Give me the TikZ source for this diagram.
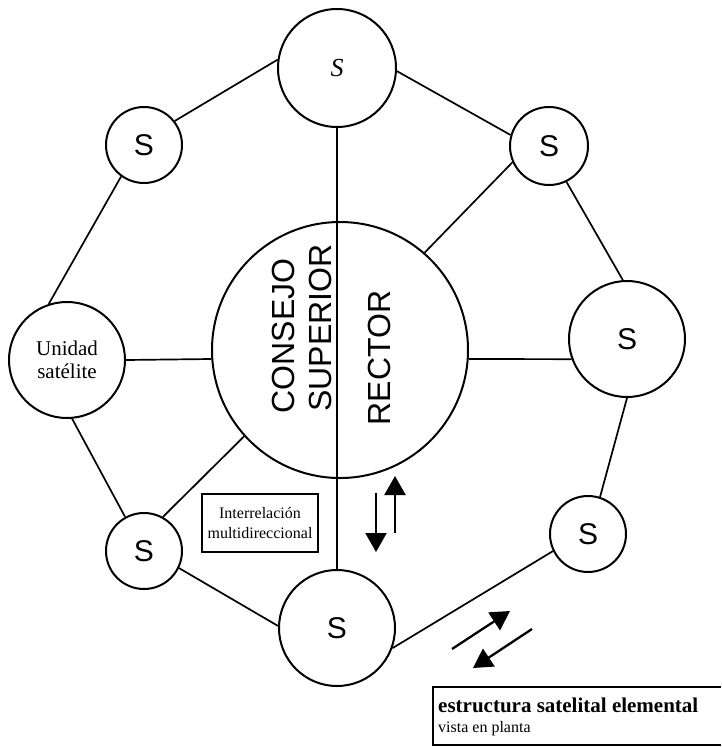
\documentclass[tikz,border=0pt]{standalone}
\usepackage{fontspec}
\setmainfont{Liberation Serif}
\newfontfamily\arialfont{Liberation Sans}
\usetikzlibrary{arrows.meta}

\begin{document}
\begin{tikzpicture}[x=1pt, y=-1pt,
    sat/.style={circle, draw, line width=2pt, inner sep=0pt,
                minimum size=#1},
    sat/.default=76pt,
    link/.style={line width=1.7pt},
    flow/.style={line width=2.3pt, -{Triangle[length=19pt,width=21pt]}},
    sletter/.style={font=\arialfont\fontsize{30}{30}\selectfont},
    bigtxt/.style={font=\arialfont\fontsize{32}{32}\selectfont,
                   rotate=90, inner sep=0pt}]
  \useasboundingbox (0,0) rectangle (721,747);

  %% central body
  \node[sat=256pt] (central) at (340,350) {};
  \node[bigtxt] (consejo) at (283,336) {CONSEJO};
  \node[bigtxt] (superior) at (320,328) {SUPERIOR};
  \node[bigtxt] (rector) at (379,358) {RECTOR};

  %% satellites
  \node[sat=118pt, font=\itshape\fontsize{26}{26}\selectfont]
    (stop) at (337,68) {S};
  \node[sat, sletter] (sleftup) at (144,145) {S};
  \node[sat=78pt, sletter] (srightup) at (549,146) {S};
  \node[sat=116pt, align=center, font=\fontsize{21}{23}\selectfont]
    (unidad) at (67,360) {Unidad\\satélite};
  \node[sat=116pt, sletter] (sright) at (627,339) {S};
  \node[sat, sletter] (sleftdown) at (144,551) {S};
  \node[sat=116pt, sletter] (sbottom) at (337,628) {S};
  \node[sat, sletter] (srightdown) at (588,534) {S};

  %% links
  \draw[link] (stop.172) -- (sleftup.38);
  \draw[link] (stop.357) -- (srightup.164);
  \draw[link] (stop.south) -- (sbottom.north);
  \draw[link] (sleftup.234) -- (unidad.108);
  \draw[link] (srightup.204) -- (central.49);
  \draw[link] (srightup.296) -- (sright.94);
  \draw[link] (unidad.east) -- (central.184);
  \draw[link] (central.356) -- (sright.200);
  \draw[link] (unidad.275) -- (sleftdown.119);
  \draw[link] (central.222) -- (sleftdown.61);
  \draw[link] (sleftdown.334) -- (sbottom.178);
  \draw[link] (sbottom.340) -- (srightdown.206);
  \draw[link] (sright.270) -- (srightdown.72);

  %% label box
  \node[draw, line width=2.2pt, minimum width=116pt, minimum height=58pt,
        inner sep=0pt, align=center, font=\fontsize{16}{20}\selectfont]
    (inter) at (260,523) {Interrelación\\multidireccional};

  %% two-way arrows
  \coordinate (upA) at (395,533);
  \coordinate (upB) at (395,476);
  \coordinate (dnA) at (376,493);
  \coordinate (dnB) at (376,552);
  \draw[flow] (upA) -- (upB);
  \draw[flow] (dnA) -- (dnB);
  \coordinate (diA) at (452,649);
  \coordinate (diB) at (510,611);
  \coordinate (dgA) at (532,629);
  \coordinate (dgB) at (473,668);
  \draw[flow] (diA) -- (diB);
  \draw[flow] (dgA) -- (dgB);

  %% legend, open on the right
  \draw[line width=2.2pt] (721,687) -- (433,687) -- (433,745) -- (721,745);
  \node[anchor=base west, inner sep=0pt,
        font=\bfseries\fontsize{21}{21}\selectfont]
    (titulo) at (438,712) {estructura satelital elemental};
  \node[anchor=base west, inner sep=0pt, font=\fontsize{16}{16}\selectfont]
    (subtitulo) at (438,732) {vista en planta};
\end{tikzpicture}
\end{document}
